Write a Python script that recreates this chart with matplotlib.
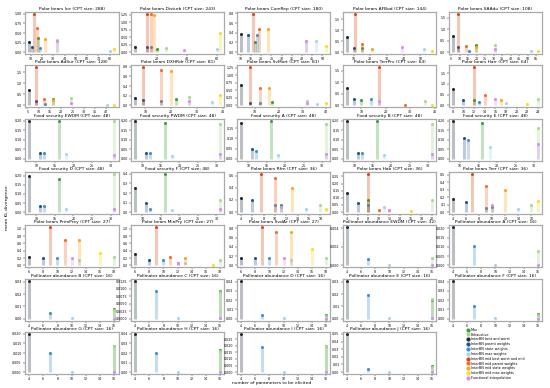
import matplotlib
matplotlib.use("Agg")
import matplotlib.pyplot as plt
import numpy as np

# --- methods (legend order) ---
methods = ['Max', 'Exhaustive', 'InterBN best and worst', 'InterBN parent weights',
           'InterBN state weights', 'InterBN max weights', 'InterBN mid best worst and mid',
           'InterBN mid parent weights', 'InterBN mid state weights', 'InterBN mid max weights',
           'Functional interpolation']
colors = ['#3a9e3a', '#a8d98e', '#1c2b3a', '#23508f', '#3d8fd0', '#a9d3ef', '#d9480f',
          '#f26b2a', '#ffa31a', '#f5df1e', '#d58cff']

# --- per panel: x = parameters to elicit, y = mean KL divergence (None = no stem) ---
ice_x = [16.5, 33, 8.5, 11.5, 18.5, 80, 12.5, 15.5, 22.5, 84, 33]
ice_y = [0.37, 0.32, 0.26, 0.13, 0.12, 0.03, 1.0, 0.62, 0.34, 0.07, 0.28]
disturb_x = [20, 26, 5, 13, 16, 60, 13, 16, 18, 62, 38]
disturb_y = [0.12, 0.14, 0.17, 0.17, 0.17, 0.1, 1.27, 1.27, 1.25, 0.65, 0.08]
cumrep_x = [16.7, 42, 10, 13.5, 17.7, 46.8, 15.8, 18.8, 23.3, 51.8, 42]
cumrep_y = [0.21, 0.23, 0.38, 0.36, 0.36, 0.24, 0.79, 0.48, 0.47, 0.12, 0.22]
afbod_x = [15, None, 6, 10, None, 52, 11, 15, 21, 57, 39]
afbod_y = [0.18, None, 0.68, 0.18, None, 0.14, 1.74, 0.38, 0.15, 0.05, 0.23]
saadu_x = [19.6, 30.6, 6, 9, 15.6, 52, 9, 14, 19.6, 56, 30.6]
saadu_y = [0.32, 0.32, 0.69, 0.22, 0.07, 0.04, 1.66, 0.25, 0.22, 0.04, 0.13]

adsur_x = [16.2, 24.4, 5.7, 9, 12.8, 40.5, 9, 12.2, 16.2, 43.5, 24.4]
adsur_y = [0.3, 0.33, 0.70, 0.22, 0.05, 0.01, 1.72, 0.28, 0.25, 0.01, 0.12]
dxhrdr_x = [22, 27, 6, 9, 16, 36, 9, 16, 20, 39, 27]
dxhrdr_y = [0.14, 0.17, 0.15, 0.12, 0.1, 0.07, 0.79, 0.74, 0.71, 0.21, 0.1]
svmort_x = [17, 32, 4, 8, 12, 36, 8, 12, 16, 40, 32]
svmort_y = [0.12, 0.15, 0.69, 0.09, 0.09, 0.06, 1.26, 0.57, 0.57, 0.09, 0.09]
terrprv_x = [10, 36, 4, 7, 14, None, 17, 28, None, 39, 17]
terrprv_y = [0.24, 0.2, 0.76, 0.29, 0.27, None, 1.65, 0.03, None, 0.04, 0.2]
harr_x = [12, 24, 8, 10, 13, 18, 12, 14, 17, 22, 16]
harr_y = [0.26, 0.28, 0.74, 0.26, 0.15, 0.11, 1.77, 0.49, 0.23, 0.05, 0.28]

food_x = [16, 31, 8, 11, 12, 18, None, None, None, None, 31]
fs_ewdm_y = [0.197, 0.2, 0.197, 0.03, 0.03, 0.027, None, None, None, None, 0.022]
fs_pwdm_y = [0.19, 0.18, 0.2, 0.03, 0.03, 0.015, None, None, None, None, 0.025]
fs_a_y = [0.187, 0.172, 0.175, 0.047, 0.038, 0.017, None, None, None, None, 0.025]
fs_b_y = [0.2, 0.18, 0.2, 0.03, 0.03, 0.02, None, None, None, None, 0.025]
fs_e_y = [0.19, 0.16, 0.2, 0.107, 0.1, 0.06, None, None, None, None, 0.08]
fs_d_y = [0.18, 0.21, 0.2, 0.031, 0.031, 0.017, None, None, None, None, 0.015]
fs_f_y = [0.4, 0.13, 0.25, 0.095, 0.03, 0.02, None, None, None, None, 0.03]

rfrn_x = [11, 18, 4, 6, 10, 15.5, 7.5, 10, 13, 19, 11]
rfrn_y = [0.12, 0.12, 0.23, 0.2, 0.11, 0.046, 0.63, 0.57, 0.39, 0.057, 0.09]
hab_x = [8, 20, 4, 6, 8, 11, 8, 10, 12, 16, 12]
hab_y = [0.083, 0.083, 0.136, 0.064, 0.048, 0.036, 0.267, 0.012, 0.012, 0.007, 0.017]
terr_x = [10, 16, 4, 6, 9, 14, 7, 9, 12, 17, 10]
terr_y = [0.07, 0.09, 0.17, 0.14, 0.06, 0.036, 0.51, 0.35, 0.3, 0.15, 0.09]
primprey_x = [None, 18, 6, 8, 10, 13, 9, 11, 13, 16, 12]
primprey_y = [None, 0.22, 0.22, 0.2, 0.2, 0.16, 1.04, 0.68, 0.68, 0.34, 0.2]
minpry_x = [12, 18, 6, 8, 10, 13, 9, 11, 13, 17, 12]
minpry_y = [0.08, 0.14, 0.31, 0.14, 0.14, 0.06, 1.04, 0.22, 0.2, 0.02, 0.06]
svdar_x = [None, 18, 6, 8, 10, 13, 9, 11, 13, 16, 12]
svdar_y = [None, 0.15, 0.16, 0.15, 0.15, 0.11, 0.82, 0.72, 0.72, 0.36, 0.15]

poll_x = [16, 16, 4, None, 7, 10, None, None, None, None, 16]
pa_ewdm_y = [None, 0.00077, 0.0041, None, 0.00067, 0.00003, None, None, None, None, 0.00002]
pa_a_y = [None, 0.0078, 0.0205, None, 0.0102, 0.0005, None, None, None, None, 0.0003]
pa_b_y = [0.008, 0.0075, 0.031, None, 0.005, 0.0005, None, None, None, None, 0.0002]
pa_c_y = [0.0092, 0.0088, 0.0127, None, 0.0093, 0.0003, None, None, None, None, 0.0002]
pa_d_y = [0.004, 0.0035, 0.041, None, 0.0036, 0.0004, None, None, None, None, 0.0001]
pa_e_y = [0.0155, 0.016, 0.031, None, 0.019, 0.0005, None, None, None, None, 0.0003]
pa_f_y = [0.005, 0.0045, 0.041, None, 0.014, 0.0005, None, None, None, None, 0.0002]
pa_g_y = [0.0139, 0.0135, 0.02, None, 0.0101, 0.0003, None, None, None, None, 0.0002]
pa_h_y = [0.023, 0.022, 0.04, None, 0.02, 0.0005, None, None, None, None, 0.0003]
pa_i_y = [0.02, 0.0195, 0.029, None, 0.019, 0.0004, None, None, None, None, 0.0003]
pa_j_y = [0.0075, 0.007, 0.05, None, 0.0035, 0.0005, None, None, None, None, 0.0004]

panels = [
    ('Polar bears Ice (CPT size: 288)', ice_x, ice_y, range(10, 81, 10), np.arange(0, 1.01, 0.25), '%.2f'),
    ('Polar bears Disturb (CPT size: 243)', disturb_x, disturb_y, [20, 40, 60], np.arange(0, 1.26, 0.25), '%.2f'),
    ('Polar bears CumRep (CPT size: 180)', cumrep_x, cumrep_y, range(10, 51, 5), np.arange(0, 0.81, 0.2), '%.1f'),
    ('Polar bears AFBod (CPT size: 144)', afbod_x, afbod_y, range(10, 51, 10), np.arange(0, 1.51, 0.5), '%.1f'),
    ('Polar bears SAAdu (CPT size: 108)', saadu_x, saadu_y, range(5, 56, 5), np.arange(0, 1.51, 0.5), '%.1f'),
    ('Polar bears AdSur (CPT size: 128)', adsur_x, adsur_y, range(5, 41, 5), np.arange(0, 1.51, 0.5), '%.1f'),
    ('Polar bears DXHRdr (CPT size: 81)', dxhrdr_x, dxhrdr_y, range(10, 41, 10), np.arange(0, 0.81, 0.2), '%.1f'),
    ('Polar bears SvMort (CPT size: 81)', svmort_x, svmort_y, range(10, 41, 10), np.arange(0, 1.26, 0.25), '%.2f'),
    ('Polar bears TerrPrv (CPT size: 64)', terrprv_x, terrprv_y, range(10, 41, 10), np.arange(0, 1.51, 0.5), '%.1f'),
    ('Polar bears Harr (CPT size: 64)', harr_x, harr_y, range(8, 25, 2), np.arange(0, 1.51, 0.5), '%.1f'),
    ('Food security EWDM (CPT size: 48)', food_x, fs_ewdm_y, range(10, 31, 5), np.arange(0, 0.21, 0.05), '%.2f'),
    ('Food security PWDM (CPT size: 48)', food_x, fs_pwdm_y, range(10, 31, 5), np.arange(0, 0.21, 0.05), '%.2f'),
    ('Food security A (CPT size: 48)', food_x, fs_a_y, range(10, 31, 5), np.arange(0, 0.16, 0.05), '%.2f'),
    ('Food security B (CPT size: 48)', food_x, fs_b_y, range(10, 31, 5), np.arange(0, 0.21, 0.05), '%.2f'),
    ('Food security E (CPT size: 48)', food_x, fs_e_y, range(10, 31, 5), np.arange(0, 0.21, 0.05), '%.2f'),
    ('Food security D (CPT size: 48)', food_x, fs_d_y, range(10, 31, 5), np.arange(0, 0.21, 0.05), '%.2f'),
    ('Food security F (CPT size: 48)', food_x, fs_f_y, range(10, 31, 5), np.arange(0, 0.41, 0.1), '%.1f'),
    ('Polar bears Rfrn (CPT size: 36)', rfrn_x, rfrn_y, range(4, 19, 2), np.arange(0, 0.61, 0.2), '%.1f'),
    ('Polar bears Hab (CPT size: 36)', hab_x, hab_y, range(4, 21, 2), np.arange(0, 0.26, 0.05), '%.2f'),
    ('Polar bears Terr (CPT size: 36)', terr_x, terr_y, range(4, 17, 2), np.arange(0, 0.51, 0.1), '%.1f'),
    ('Polar bears PrimPrey (CPT size: 27)', primprey_x, primprey_y, range(6, 19, 2), np.arange(0, 1.01, 0.2), '%.1f'),
    ('Polar bears MinPry (CPT size: 27)', minpry_x, minpry_y, range(6, 19, 2), np.arange(0, 1.01, 0.2), '%.1f'),
    ('Polar bears SvdAr (CPT size: 27)', svdar_x, svdar_y, range(6, 19, 2), np.arange(0, 0.81, 0.2), '%.1f'),
    ('Pollinator abundance EWDM (CPT size: 32)', poll_x, pa_ewdm_y, range(4, 17, 2), np.arange(0, 0.0041, 0.002), '%.3f'),
    ('Pollinator abundance A (CPT size: 16)', poll_x, pa_a_y, range(4, 17, 2), np.arange(0, 0.0201, 0.005), '%.3f'),
    ('Pollinator abundance B (CPT size: 16)', poll_x, pa_b_y, range(4, 17, 2), np.arange(0, 0.031, 0.01), '%.2f'),
    ('Pollinator abundance C (CPT size: 16)', poll_x, pa_c_y, range(4, 17, 2), np.arange(0, 0.0126, 0.0025), '%.4f'),
    ('Pollinator abundance D (CPT size: 16)', poll_x, pa_d_y, range(4, 17, 2), np.arange(0, 0.041, 0.01), '%.2f'),
    ('Pollinator abundance E (CPT size: 16)', poll_x, pa_e_y, range(4, 17, 2), np.arange(0, 0.031, 0.01), '%.2f'),
    ('Pollinator abundance F (CPT size: 16)', poll_x, pa_f_y, range(4, 17, 2), np.arange(0, 0.041, 0.01), '%.2f'),
    ('Pollinator abundance G (CPT size: 16)', poll_x, pa_g_y, range(4, 17, 2), np.arange(0, 0.0201, 0.005), '%.3f'),
    ('Pollinator abundance H (CPT size: 16)', poll_x, pa_h_y, range(4, 17, 2), np.arange(0, 0.041, 0.01), '%.2f'),
    ('Pollinator abundance I (CPT size: 16)', poll_x, pa_i_y, range(4, 17, 2), np.arange(0, 0.0251, 0.005), '%.3f'),
    ('Pollinator abundance J (CPT size: 16)', poll_x, pa_j_y, range(4, 17, 2), np.arange(0, 0.051, 0.01), '%.2f'),
]

# --- Plot ---
fig, axes = plt.subplots(7, 5, figsize=(5.5, 3.88), dpi=100)
fig.subplots_adjust(left=0.045, right=0.986, top=0.969, bottom=0.036, wspace=0.13, hspace=0.27)

for ax, (title, xs, ys, xt, yt, fmt) in zip(axes.flat, panels):
    for x, y, c in zip(xs, ys, colors):
        if x is None or y is None:
            continue
        ax.vlines(x, 0, y, color=c, lw=2.2, alpha=0.3)
        ax.plot(x, y, 'o', color=c, ms=2.2, mec='none')
    ax.set_title(title, fontsize=3.2, pad=1.5)
    ax.set_xticks(list(xt))
    ax.set_yticks(yt)
    ax.yaxis.set_major_formatter(matplotlib.ticker.FormatStrFormatter(fmt))
    ax.tick_params(labelsize=2.3, length=1.2, width=0.3, pad=1)
    for s in ax.spines.values():
        s.set_color('#aaaaaa')
        s.set_linewidth(0.9)

# legend panel
lax = axes.flat[-1]
lax.axis('off')
handles = [plt.Line2D([], [], marker='o', ls='none', color=c, ms=2) for c in colors]
lax.legend(handles, methods, loc='center', bbox_to_anchor=(0.5, 0.48), fontsize=2.4, frameon=False,
           handletextpad=0.4, handlelength=1.0, labelspacing=0.25, borderaxespad=0)

fig.text(0.012, 0.466, 'mean KL divergence', rotation=90, va='center', ha='center', fontsize=3.2)
fig.text(0.493, 0.008, 'number of parameters to be elicited', ha='center', va='bottom', fontsize=3.2)

plt.savefig('out.png', dpi=100)
